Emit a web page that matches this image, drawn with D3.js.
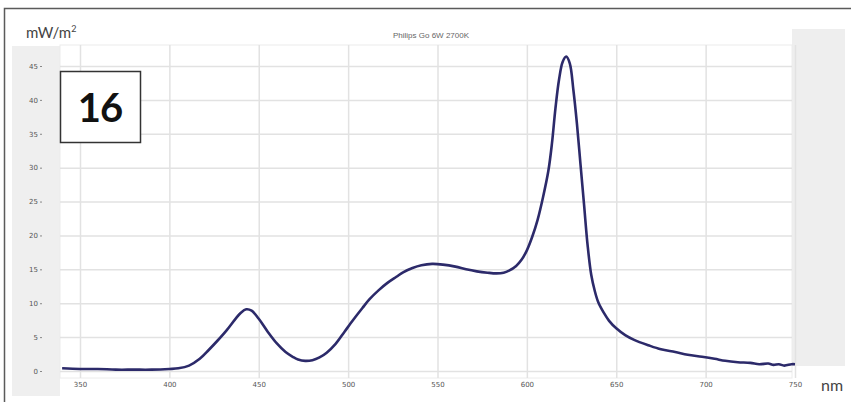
<!DOCTYPE html>
<html>
<head>
<meta charset="utf-8">
<script src="https://cdn.jsdelivr.net/npm/d3@7"></script>
<style>
  body { margin: 0; background: #fff; }
  svg { display: block; }
</style>
</head>
<body>
<div class="canvas"></div>
<script>
// spectrum data
const wavelengths = [340, 350, 360, 370, 380, 390, 400, 405, 411, 417, 422, 427, 432, 437, 440, 443, 446, 450, 455, 460, 465, 469, 472, 476, 480, 484, 488, 493, 498, 503, 508, 512, 517, 522, 527, 531, 536, 541, 547, 553, 560, 566, 572, 578, 583, 587, 590, 594, 597, 600, 603, 606, 609, 612, 614, 616, 618, 620, 622, 624, 626, 628, 630, 632, 634, 636, 638, 640, 643, 646, 650, 655, 660, 668, 675, 683, 690, 698, 705, 711, 718, 725, 730, 735, 738, 741, 744, 748, 750];
const irradiance = [0.4, 0.3, 0.3, 0.2, 0.2, 0.2, 0.3, 0.4, 0.8, 1.8, 3.1, 4.5, 6.0, 7.7, 8.6, 9.1, 8.9, 7.7, 5.8, 4.1, 2.8, 2.1, 1.7, 1.5, 1.6, 2.0, 2.7, 4.0, 5.8, 7.6, 9.3, 10.6, 11.9, 13.0, 13.9, 14.6, 15.2, 15.6, 15.8, 15.7, 15.4, 15.0, 14.7, 14.5, 14.4, 14.5, 14.8, 15.5, 16.4, 17.8, 19.8, 22.3, 25.6, 29.5, 33.5, 38.8, 43.0, 45.6, 46.4, 45.4, 41.5, 36.5, 30.5, 24.5, 18.5, 14.2, 11.8, 10.1, 8.6, 7.4, 6.3, 5.3, 4.6, 3.8, 3.2, 2.8, 2.4, 2.1, 1.8, 1.5, 1.3, 1.2, 1.0, 1.1, 0.9, 1.0, 0.8, 1.0, 1.0];

const xTicks = [350, 400, 450, 500, 550, 600, 650, 700, 750];
const yTicks = [0, 5, 10, 15, 20, 25, 30, 35, 40, 45];

const chartTitle = 'Philips Go 6W 2700K';
const yUnit = 'mW/m';
const xUnit = 'nm';
const chartNumber = '16';

const data = wavelengths.map((w, i) => ({ nm: w, v: irradiance[i] }));

const width = 851, height = 402;

const svg = d3.select('.canvas')
  .append('svg')
    .attr('width', width)
    .attr('height', height);

// plot area bounds
const plot = { left: 60, right: 792, top: 45, bottom: 378 };

const x = d3.scaleLinear().domain([350, 750]).range([80, 795]);
const y = d3.scaleLinear().domain([0, 45]).range([371, 66]);

// background bands
svg.append('rect')
  .attr('x', 12).attr('y', 46)
  .attr('width', plot.left - 12).attr('height', 350)
  .attr('fill', '#efefef');

svg.append('rect')
  .attr('x', plot.right).attr('y', 29)
  .attr('width', 53).attr('height', 337)
  .attr('fill', '#eeeeee');

svg.append('rect')
  .attr('x', plot.left).attr('y', plot.top)
  .attr('width', plot.right - plot.left).attr('height', plot.bottom - plot.top)
  .attr('fill', '#fff')
  .attr('stroke', '#ececec');

// outer frame
svg.append('path')
  .attr('d', `M4.5,${height} V8.5 H${width}`)
  .attr('fill', 'none')
  .attr('stroke', '#5a5a5a')
  .attr('stroke-width', 1.5);

// grid
const gridX = svg.append('g')
  .attr('transform', `translate(0, ${plot.bottom})`)
  .call(d3.axisBottom(x).tickValues(xTicks).tickSize(-(plot.bottom - plot.top)).tickFormat(''));
const gridY = svg.append('g')
  .attr('transform', `translate(${plot.left}, 0)`)
  .call(d3.axisLeft(y).tickValues(yTicks).tickSize(-(plot.right - plot.left)).tickFormat(''));
[gridX, gridY].forEach(g => {
  g.select('.domain').remove();
  g.selectAll('line').attr('stroke', '#e2e2e2').attr('stroke-width', 1.5);
});

// axes labels
const xAxisGroup = svg.append('g')
  .attr('transform', `translate(0, ${plot.bottom})`)
  .call(d3.axisBottom(x).tickValues(xTicks).tickSize(0).tickPadding(4));
const yAxisGroup = svg.append('g')
  .attr('transform', `translate(40, 0)`)
  .call(d3.axisRight(y).tickValues(yTicks).tickSize(2).tickPadding(0));

xAxisGroup.select('.domain').remove();
yAxisGroup.select('.domain').remove();
xAxisGroup.selectAll('text')
  .attr('fill', '#555')
  .style('font', '7px "DejaVu Sans", sans-serif');
yAxisGroup.selectAll('line').attr('stroke', '#888');
yAxisGroup.selectAll('text')
  .attr('x', -2)
  .attr('text-anchor', 'end')
  .attr('fill', '#555')
  .style('font', '7px "DejaVu Sans", sans-serif');

// spectrum line
const line = d3.line()
  .x(d => x(d.nm))
  .y(d => y(d.v))
  .curve(d3.curveCatmullRom.alpha(0.5));

svg.append('path')
  .datum(data)
  .attr('d', line)
  .attr('fill', 'none')
  .attr('stroke', '#2c2a6a')
  .attr('stroke-width', 2.6)
  .attr('stroke-linejoin', 'round');

// title
svg.append('text')
  .attr('x', 431).attr('y', 38)
  .attr('text-anchor', 'middle')
  .attr('fill', '#666')
  .style('font', '8px "Liberation Sans", Arial, sans-serif')
  .text(chartTitle);

// units
const yLab = svg.append('text')
  .attr('x', 26).attr('y', 38)
  .attr('fill', '#444')
  .style('font', '15px Lato, "Open Sans", sans-serif');
yLab.append('tspan').text(yUnit);
yLab.append('tspan').attr('dy', -6).style('font-size', '9px').text('2');

svg.append('text')
  .attr('x', 821).attr('y', 391)
  .attr('fill', '#444')
  .style('font', '16px Lato, "Open Sans", sans-serif')
  .text(xUnit);

// number box
svg.append('rect')
  .attr('x', 60.5).attr('y', 71.5)
  .attr('width', 80).attr('height', 71)
  .attr('fill', '#fff')
  .attr('stroke', '#333')
  .attr('stroke-width', 1.5);
svg.append('text')
  .attr('x', 100).attr('y', 122)
  .attr('text-anchor', 'middle')
  .attr('fill', '#111')
  .attr('letter-spacing', -1)
  .style('font', 'bold 40px Lato, "Open Sans", sans-serif')
  .text(chartNumber);
</script>
</body>
</html>
